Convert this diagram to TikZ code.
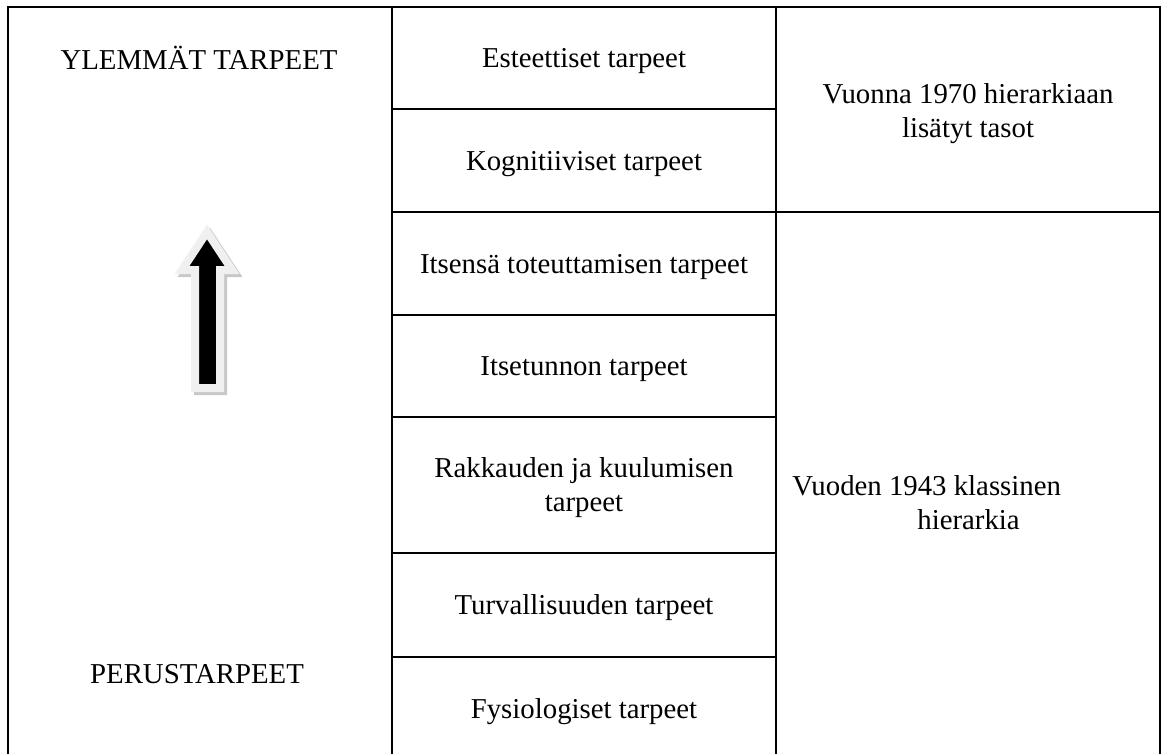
\documentclass[tikz,border=0pt]{standalone}
\usepackage{fontspec}
\setmainfont{Liberation Serif}
\usetikzlibrary{positioning}
\definecolor{ArrowRim}{RGB}{240,240,240}
\definecolor{ArrowShade}{RGB}{200,200,200}
\tikzstyle{cellbox} = [rectangle, draw, line width=1.1pt, outer sep=0pt,
                       minimum width=192pt, inner sep=0pt, text depth=0pt, align=center]
\tikzstyle{sidetxt} = [inner sep=0pt, align=center]
\tikzstyle{uparrow} = [line width=4pt, line join=miter]

\begin{document}
\begin{tikzpicture}[x=0.5pt, y=-0.5pt, font=\fontsize{14.4}{17}\selectfont]
  \useasboundingbox (0,0) rectangle (1161,754);
  \clip (0,0) rectangle (1161,754);
  % middle column: the levels
  \node[cellbox, minimum height=51pt] (este) at (584,58) {Esteettiset tarpeet};
  \node[cellbox, minimum height=51.5pt, below=0pt of este] (kogn) {Kognitiiviset tarpeet};
  \node[cellbox, minimum height=51.5pt, below=0pt of kogn] (itse) {Itsensä toteuttamisen tarpeet};
  \node[cellbox, minimum height=51pt, below=0pt of itse] (tunto) {Itsetunnon tarpeet};
  \node[cellbox, minimum height=68pt, below=0pt of tunto] (rakk) {Rakkauden ja kuulumisen\\tarpeet};
  \node[cellbox, minimum height=52pt, below=0pt of rakk] (turva) {Turvallisuuden tarpeet};
  \node[cellbox, minimum height=51.5pt, below=0pt of turva] (fysio) {Fysiologiset tarpeet};
  % right column
  \node[cellbox, minimum height=102.5pt, anchor=north west] (uudet) at (este.north east) {};
  \node[sidetxt] (lisa) at (968,114) {Vuonna 1970 hierarkiaan\\lisätyt tasot};
  \node[cellbox, minimum height=274pt, anchor=north west] (vanha) at (kogn.south east) {};
  \node[anchor=west, align=left, inner sep=0pt] (klass) at (792,503)
       {Vuoden 1943 klassinen\\\hspace*{62.5pt}hierarkia};
  % left column
  \node[cellbox, minimum height=376.5pt, anchor=north east] (suunta) at (este.north west) {};
  \node[sidetxt] (ylem) at (199,57.5) {YLEMMÄT TARPEET};
  \node[sidetxt] (perus) at (197,674.5) {PERUSTARPEET};
  % arrow
  \filldraw[uparrow, fill=ArrowShade, draw=ArrowShade, shift={(3,3)}]
    (207,232) -- (232,270) -- (220,270) -- (220,388) -- (195,388) -- (195,270) -- (182,270) -- cycle;
  \filldraw[uparrow, fill=black, draw=ArrowRim]
    (207,232) -- (232,270) -- (220,270) -- (220,388) -- (195,388) -- (195,270) -- (182,270) -- cycle;
\end{tikzpicture}
\end{document}
